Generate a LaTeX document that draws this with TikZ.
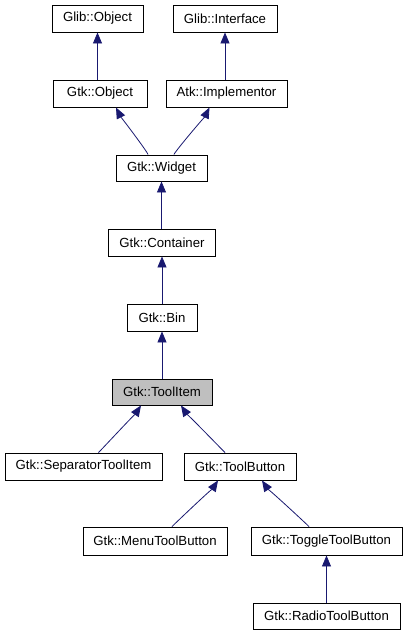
\documentclass[tikz,border=0pt]{standalone}
\usepackage{fontspec}
\setmainfont{Liberation Sans}
\usetikzlibrary{arrows.meta,calc}
\definecolor{edgeblue}{HTML}{191970}
\definecolor{hilite}{HTML}{BFBFBF}
\begin{document}
\begin{tikzpicture}[x=1pt,y=-1pt,
  cls/.style={draw=black,line width=0.9pt,inner sep=0pt,fill=white,font=\fontsize{13.2}{15}\selectfont},
  inh/.style={draw=edgeblue,line width=0.8pt,-{Triangle[length=11pt,width=9pt]},fill=none},
]
\useasboundingbox (0,0) rectangle (405,635);
\node[cls,minimum width=91pt,minimum height=27pt] (glibobj) at (97.5,18.5) {Glib::Object};
\node[cls,minimum width=104pt,minimum height=27pt] (glibint) at (225,18.5) {Glib::Interface};
\node[cls,minimum width=94pt,minimum height=27pt] (gtkobj) at (100,93.5) {Gtk::Object};
\node[cls,minimum width=121pt,minimum height=27pt] (atk) at (226.5,93.5) {Atk::Implementor};
\node[cls,minimum width=91pt,minimum height=26pt] (widget) at (161.5,168) {Gtk::Widget};
\node[cls,minimum width=107pt,minimum height=27pt] (container) at (162,242.5) {Gtk::Container};
\node[cls,minimum width=70pt,minimum height=27pt] (bin) at (162,317.5) {Gtk::Bin};
\node[cls,fill=hilite,minimum width=100pt,minimum height=26pt] (toolitem) at (162,392) {Gtk::ToolItem};
\node[cls,minimum width=157pt,minimum height=27pt] (sep) at (83.5,466.5) {Gtk::SeparatorToolItem};
\node[cls,minimum width=112pt,minimum height=27pt] (toolbutton) at (240,466.5) {Gtk::ToolButton};
\node[cls,minimum width=144pt,minimum height=28pt] (menu) at (155,541) {Gtk::MenuToolButton};
\node[cls,minimum width=151pt,minimum height=28pt] (toggle) at (326.5,541) {Gtk::ToggleToolButton};
\node[cls,minimum width=147pt,minimum height=26pt] (radio) at (326.5,616) {Gtk::RadioToolButton};

\draw[inh] (gtkobj.north -| glibobj.south) -- (glibobj.south);
\draw[inh] (atk.north -| glibint.south) -- (glibint.south);
\draw[inh] ($(widget.north)+(-13.5,0)$) .. controls +(0,-2) and +(4,8) .. ($(gtkobj.south)+(16,0)$);
\draw[inh] ($(widget.north)+(12.5,0)$) .. controls +(0,-2) and +(-4,8) .. ($(atk.south)+(-17,0)$);
\draw[inh] (container.north -| widget.south) -- (widget.south);
\draw[inh] (bin.north) -- (container.south);
\draw[inh] (toolitem.north) -- (bin.south);
\draw[inh] ($(sep.north)+(15,0)$) .. controls +(4,-4) and +(-4,6) .. ($(toolitem.south)+(-21,0)$);
\draw[inh] ($(toolbutton.north)+(-15,0)$) .. controls +(-4,-4) and +(4,6) .. ($(toolitem.south)+(19,0)$);
\draw[inh] ($(menu.north)+(17,0)$) .. controls +(4,-4) and +(-4,6) .. ($(toolbutton.south)+(-22,0)$);
\draw[inh] ($(toggle.north)+(-17.5,0)$) .. controls +(-4,-4) and +(4,6) .. ($(toolbutton.south)+(22,0)$);
\draw[inh] (radio.north) -- (toggle.south);
\end{tikzpicture}
\end{document}
